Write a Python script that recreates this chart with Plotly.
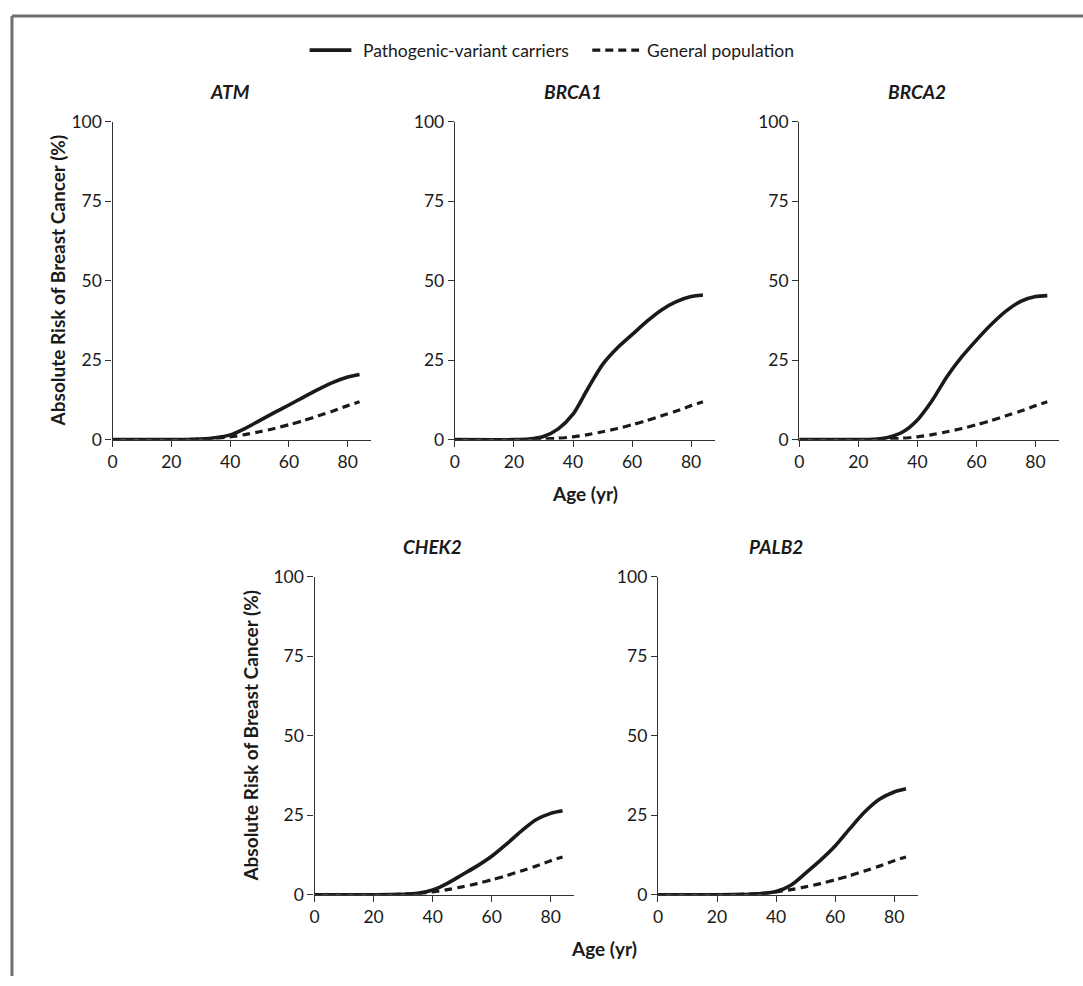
import plotly.graph_objects as go

W, H = 1083, 986

ages = [0, 20, 25, 30, 35, 40, 45, 50, 55, 60, 65, 70, 75, 80, 84]
general_population = [0, 0, 0.05, 0.2, 0.45, 0.9, 1.6, 2.5, 3.5, 4.7, 6.0, 7.5, 9.0, 10.7, 11.9]

genes = ["ATM", "BRCA1", "BRCA2", "CHEK2", "PALB2"]
atm = [0, 0, 0.05, 0.2, 0.6, 1.5, 3.5, 6.0, 8.5, 10.9, 13.4, 15.8, 18.0, 19.7, 20.5]
brca1 = [0, 0, 0.2, 1.0, 3.4, 8.0, 16.0, 23.6, 28.8, 33.0, 37.2, 40.8, 43.4, 45.0, 45.5]
brca2 = [0, 0, 0.1, 0.7, 2.4, 6.2, 12.3, 19.8, 26.0, 31.3, 36.2, 40.4, 43.5, 45.0, 45.3]
chek2 = [0, 0, 0.05, 0.15, 0.5, 1.5, 3.6, 6.3, 9.0, 12.1, 15.9, 20.0, 23.6, 25.6, 26.4]
palb2 = [0, 0, 0.03, 0.1, 0.35, 1.0, 3.0, 6.8, 10.8, 15.3, 20.8, 26.0, 30.0, 32.3, 33.3]
carriers = [atm, brca1, brca2, chek2, palb2]

x_ticks = [0, 20, 40, 60, 80]
y_ticks = [0, 25, 50, 75, 100]

legend_names = ["Pathogenic-variant carriers", "General population"]
y_title = "Absolute Risk of Breast Cancer (%)"
x_title = "Age (yr)"

FONT = "Lato"
INK = "#1a1a1a"
AX = "#333333"
TICK_SIZE = 17.5
BOLD_SIZE = 19

# pixel geometry of each panel: (x_left, x_right, y_top, y_bottom)
panels = [
    (108, 368, 113, 438),
    (452, 713, 113, 438),
    (798, 1059, 113, 438),
    (311, 572, 578, 903),
    (656, 917, 578, 903),
]

fig = go.Figure()

for i, (gene, vals) in enumerate(zip(genes, carriers)):
    n = "" if i == 0 else str(i + 1)
    xa, ya = "x" + n, "y" + n
    fig.add_trace(go.Scatter(
        x=ages, y=general_population, mode="lines", name=legend_names[1],
        line=dict(color=INK, width=3.2, dash="8px,5px", shape="spline", smoothing=0.8),
        xaxis=xa, yaxis=ya, showlegend=False, cliponaxis=False, hoverinfo="skip"))
    fig.add_trace(go.Scatter(
        x=ages, y=vals, mode="lines", name=legend_names[0],
        line=dict(color=INK, width=3.6, shape="spline", smoothing=0.8),
        xaxis=xa, yaxis=ya, showlegend=False, cliponaxis=False, hoverinfo="skip"))

layout = dict(
    width=W, height=H, margin=dict(l=0, r=0, t=0, b=0),
    paper_bgcolor="white", plot_bgcolor="white",
    font=dict(family=FONT, color=INK, size=TICK_SIZE),
    showlegend=False,
)

annotations = []
for i, (x0, x1, y0, y1) in enumerate(panels):
    n = "" if i == 0 else str(i + 1)
    layout["xaxis" + n] = dict(
        domain=[x0 / W, x1 / W], anchor="y" + n, range=[0, 88],
        tickvals=x_ticks, ticks="outside", ticklen=6, tickcolor=AX, tickwidth=1.3,
        showline=True, linecolor=AX, linewidth=1.3, showgrid=False, zeroline=False,
        tickfont=dict(size=TICK_SIZE, family=FONT, color=INK), fixedrange=True)
    layout["yaxis" + n] = dict(
        domain=[1 - y1 / H, 1 - y0 / H], anchor="x" + n, range=[0, 100],
        tickvals=y_ticks, ticks="outside", ticklen=6, tickcolor=AX, tickwidth=1.3,
        showline=True, linecolor=AX, linewidth=1.3, showgrid=False, zeroline=False,
        tickfont=dict(size=TICK_SIZE, family=FONT, color=INK), fixedrange=True)
    annotations.append(dict(
        text="<b><i>%s</i></b>" % genes[i], xref="x" + n, x=40, yref="paper",
        y=1 - (y0 - 31) / H, showarrow=False, xanchor="center", yanchor="middle",
        font=dict(size=BOLD_SIZE, family=FONT, color=INK)))

for (px, py) in [(53, 275.5), (247, 740.5)]:
    annotations.append(dict(
        text="<b>%s</b>" % y_title, xref="paper", yref="paper", x=px / W, y=1 - py / H,
        textangle=-90, showarrow=False, xanchor="center", yanchor="middle",
        font=dict(size=BOLD_SIZE, family=FONT, color=INK)))

for (px, py) in [(583, 493), (602, 958)]:
    annotations.append(dict(
        text="<b>%s</b>" % x_title, xref="paper", yref="paper", x=px / W, y=1 - py / H,
        showarrow=False, xanchor="center", yanchor="middle",
        font=dict(size=BOLD_SIZE, family=FONT, color=INK)))

# legend (manual, to match spacing of the original)
LEG_Y = 1 - 40 / H
annotations.append(dict(text=legend_names[0], xref="paper", yref="paper", x=358 / W, y=LEG_Y,
                        showarrow=False, xanchor="left", yanchor="middle",
                        font=dict(size=17.5, family=FONT, color=INK)))
annotations.append(dict(text=legend_names[1], xref="paper", yref="paper", x=643 / W, y=LEG_Y,
                        showarrow=False, xanchor="left", yanchor="middle",
                        font=dict(size=17.5, family=FONT, color=INK)))

layout["annotations"] = annotations
layout["shapes"] = [
    dict(type="line", xref="paper", yref="paper", x0=7 / W, x1=1.0, y0=1 - 5 / H, y1=1 - 5 / H,
         line=dict(color="#707070", width=3)),
    dict(type="line", xref="paper", yref="paper", x0=7 / W, x1=7 / W, y0=0, y1=1 - 5 / H,
         line=dict(color="#707070", width=3)),
    dict(type="line", xref="paper", yref="paper", x0=306 / W, x1=348 / W, y0=LEG_Y, y1=LEG_Y,
         line=dict(color=INK, width=3.6)),
    dict(type="line", xref="paper", yref="paper", x0=590 / W, x1=637 / W, y0=LEG_Y, y1=LEG_Y,
         line=dict(color=INK, width=3.2, dash="8px,5px")),
]

fig.update_layout(**layout)

fig.write_html("out.html", config={"displayModeBar": False},
               post_script="document.body.style.margin='0';document.body.style.overflow='hidden';")
